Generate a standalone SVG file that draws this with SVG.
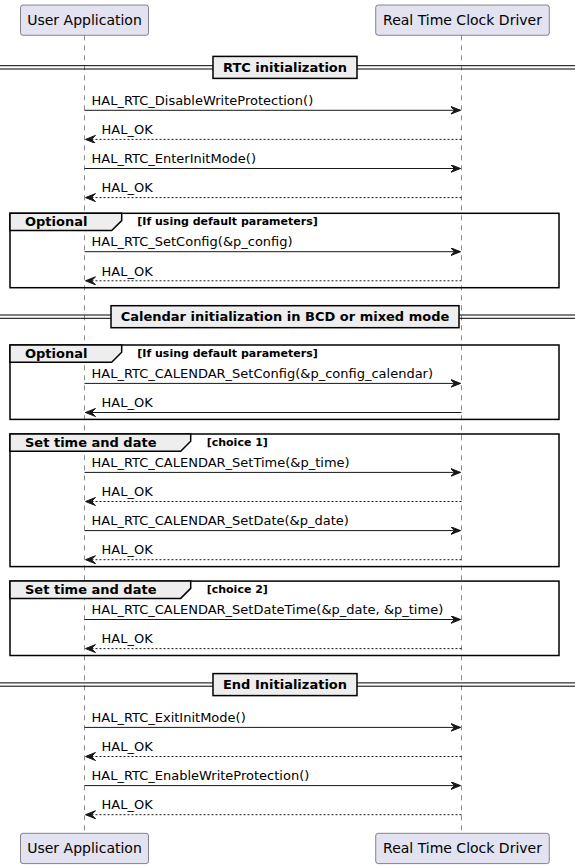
<svg xmlns="http://www.w3.org/2000/svg" width="575" height="868" viewBox="0 0 575 868">
<defs>
<style>
.part{fill:#E2E2F0;stroke:#181818;stroke-width:0.5}
.ptxt{font-family:"DejaVu Sans",sans-serif;font-size:14px;fill:#000;text-anchor:middle}
.life{stroke:#181818;stroke-width:0.5;stroke-dasharray:5,5;fill:none}
.msg{stroke:#181818;stroke-width:1;fill:none;marker-end:url(#ah)}
.ret{stroke:#181818;stroke-width:1;fill:none;stroke-dasharray:2,2;marker-end:url(#ah)}
.mtxt{font-family:"DejaVu Sans",sans-serif;font-size:13px;fill:#000}
.grp{fill:none;stroke:#000;stroke-width:1.5}
.tab{fill:#EEEEEE;stroke:#000;stroke-width:1.5}
.gtit{font-family:"DejaVu Sans",sans-serif;font-size:13px;font-weight:bold;fill:#000}
.gcond{font-family:"DejaVu Sans",sans-serif;font-size:11px;font-weight:bold;fill:#000}
.dline{stroke:#000;stroke-width:1;fill:none}
.dbox{fill:#EEEEEE;stroke:#000;stroke-width:1.5}
.dtxt{font-family:"DejaVu Sans",sans-serif;font-size:13px;font-weight:bold;fill:#000;text-anchor:middle}
</style>
<marker id="ah" markerUnits="userSpaceOnUse" markerWidth="12" markerHeight="10" refX="10" refY="4" orient="auto">
<path d="M0,0 L10,4 L0,8 L4,4 Z" fill="#181818" stroke="#181818" stroke-width="1" stroke-dasharray="none"/>
</marker>
</defs>
<rect width="575" height="868" fill="#FFFFFF"/>

<g id="lifelines">
<line class="life" x1="84.5" y1="35.3" x2="84.5" y2="833.3"/>
<line class="life" x1="461.5" y1="35.3" x2="461.5" y2="833.3"/>
</g>

<g id="participant-user-top">
<rect class="part" x="20.5" y="5" width="128" height="30.3" rx="2.5"/>
<text class="ptxt" x="84.5" y="25">User Application</text>
</g>
<g id="participant-rtc-top">
<rect class="part" x="375.7" y="5" width="173.6" height="30.3" rx="2.5"/>
<text class="ptxt" x="462.5" y="25">Real Time Clock Driver</text>
</g>
<g id="participant-user-bottom">
<rect class="part" x="20.5" y="833.3" width="128" height="30.3" rx="2.5"/>
<text class="ptxt" x="84.5" y="853.3">User Application</text>
</g>
<g id="participant-rtc-bottom">
<rect class="part" x="375.7" y="833.3" width="173.6" height="30.3" rx="2.5"/>
<text class="ptxt" x="462.5" y="853.3">Real Time Clock Driver</text>
</g>

<g id="divider-rtc-init">
<line class="dline" x1="0" y1="65.7" x2="575" y2="65.7"/>
<line class="dline" x1="0" y1="69" x2="575" y2="69"/>
<rect class="dbox" x="213" y="56.4" width="144" height="22"/>
<text class="dtxt" x="285" y="72">RTC initialization</text>
</g>

<g id="group-optional-1">
<rect class="grp" x="10" y="213.3" width="549" height="74.4"/>
<path class="tab" d="M10,213.3 L121.7,213.3 L121.7,220.6 L111.7,230.6 L10,230.6 Z"/>
<text class="gtit" x="25" y="225.8">Optional</text>
<text class="gcond" x="137.3" y="224.8">[If using default parameters]</text>
</g>

<g id="divider-calendar">
<line class="dline" x1="0" y1="315" x2="575" y2="315"/>
<line class="dline" x1="0" y1="318.3" x2="575" y2="318.3"/>
<rect class="dbox" x="111" y="305.7" width="348" height="22"/>
<text class="dtxt" x="285" y="321.3">Calendar initialization in BCD or mixed mode</text>
</g>

<g id="group-optional-2">
<rect class="grp" x="10" y="345" width="549" height="74.4"/>
<path class="tab" d="M10,345 L121.7,345 L121.7,352.3 L111.7,362.3 L10,362.3 Z"/>
<text class="gtit" x="25" y="357.5">Optional</text>
<text class="gcond" x="137.3" y="356.5">[If using default parameters]</text>
</g>

<g id="group-choice-1">
<rect class="grp" x="10" y="434" width="549" height="132.6"/>
<path class="tab" d="M10,434 L190.7,434 L190.7,441.3 L180.7,451.3 L10,451.3 Z"/>
<text class="gtit" x="25" y="446.5">Set time and date</text>
<text class="gcond" x="206.7" y="445.5">[choice 1]</text>
</g>

<g id="group-choice-2">
<rect class="grp" x="10" y="581.1" width="549" height="74.4"/>
<path class="tab" d="M10,581.1 L190.7,581.1 L190.7,588.4 L180.7,598.4 L10,598.4 Z"/>
<text class="gtit" x="25" y="593.6">Set time and date</text>
<text class="gcond" x="206.7" y="592.6">[choice 2]</text>
</g>

<g id="divider-end">
<line class="dline" x1="0" y1="682.9" x2="575" y2="682.9"/>
<line class="dline" x1="0" y1="686.2" x2="575" y2="686.2"/>
<rect class="dbox" x="213" y="673.6" width="144" height="22"/>
<text class="dtxt" x="285" y="689.2">End Initialization</text>
</g>

<g id="connectors">
<line class="msg" x1="84.5" y1="110.3" x2="460.5" y2="110.3"/>
<line class="ret" x1="461.5" y1="139.4" x2="85.5" y2="139.4"/>
<line class="msg" x1="84.5" y1="168.5" x2="460.5" y2="168.5"/>
<line class="ret" x1="461.5" y1="197.6" x2="85.5" y2="197.6"/>
<line class="msg" x1="84.5" y1="251.7" x2="460.5" y2="251.7"/>
<line class="ret" x1="461.5" y1="280.8" x2="85.5" y2="280.8"/>
<line class="msg" x1="84.5" y1="383.4" x2="460.5" y2="383.4"/>
<line class="msg" x1="461.5" y1="412.5" x2="85.5" y2="412.5"/>
<line class="msg" x1="84.5" y1="472.4" x2="460.5" y2="472.4"/>
<line class="ret" x1="461.5" y1="501.5" x2="85.5" y2="501.5"/>
<line class="msg" x1="84.5" y1="530.6" x2="460.5" y2="530.6"/>
<line class="ret" x1="461.5" y1="559.7" x2="85.5" y2="559.7"/>
<line class="msg" x1="84.5" y1="619.5" x2="460.5" y2="619.5"/>
<line class="ret" x1="461.5" y1="648.6" x2="85.5" y2="648.6"/>
<line class="msg" x1="84.5" y1="727.4" x2="460.5" y2="727.4"/>
<line class="ret" x1="461.5" y1="756.5" x2="85.5" y2="756.5"/>
<line class="msg" x1="84.5" y1="785.6" x2="460.5" y2="785.6"/>
<line class="ret" x1="461.5" y1="814.7" x2="85.5" y2="814.7"/>
</g>

<g id="message-labels">
<text class="mtxt" x="91.5" y="105">HAL_RTC_DisableWriteProtection()</text>
<text class="mtxt" x="101.5" y="134.1">HAL_OK</text>
<text class="mtxt" x="91.5" y="163.2">HAL_RTC_EnterInitMode()</text>
<text class="mtxt" x="101.5" y="192.3">HAL_OK</text>
<text class="mtxt" x="91.5" y="246.4">HAL_RTC_SetConfig(&amp;p_config)</text>
<text class="mtxt" x="101.5" y="275.5">HAL_OK</text>
<text class="mtxt" x="91.5" y="378.1">HAL_RTC_CALENDAR_SetConfig(&amp;p_config_calendar)</text>
<text class="mtxt" x="101.5" y="407.2">HAL_OK</text>
<text class="mtxt" x="91.5" y="467.1">HAL_RTC_CALENDAR_SetTime(&amp;p_time)</text>
<text class="mtxt" x="101.5" y="496.2">HAL_OK</text>
<text class="mtxt" x="91.5" y="525.3">HAL_RTC_CALENDAR_SetDate(&amp;p_date)</text>
<text class="mtxt" x="101.5" y="554.4">HAL_OK</text>
<text class="mtxt" x="91.5" y="614.2">HAL_RTC_CALENDAR_SetDateTime(&amp;p_date, &amp;p_time)</text>
<text class="mtxt" x="101.5" y="643.3">HAL_OK</text>
<text class="mtxt" x="91.5" y="722.1">HAL_RTC_ExitInitMode()</text>
<text class="mtxt" x="101.5" y="751.2">HAL_OK</text>
<text class="mtxt" x="91.5" y="780.3">HAL_RTC_EnableWriteProtection()</text>
<text class="mtxt" x="101.5" y="809.4">HAL_OK</text>
</g>
</svg>
